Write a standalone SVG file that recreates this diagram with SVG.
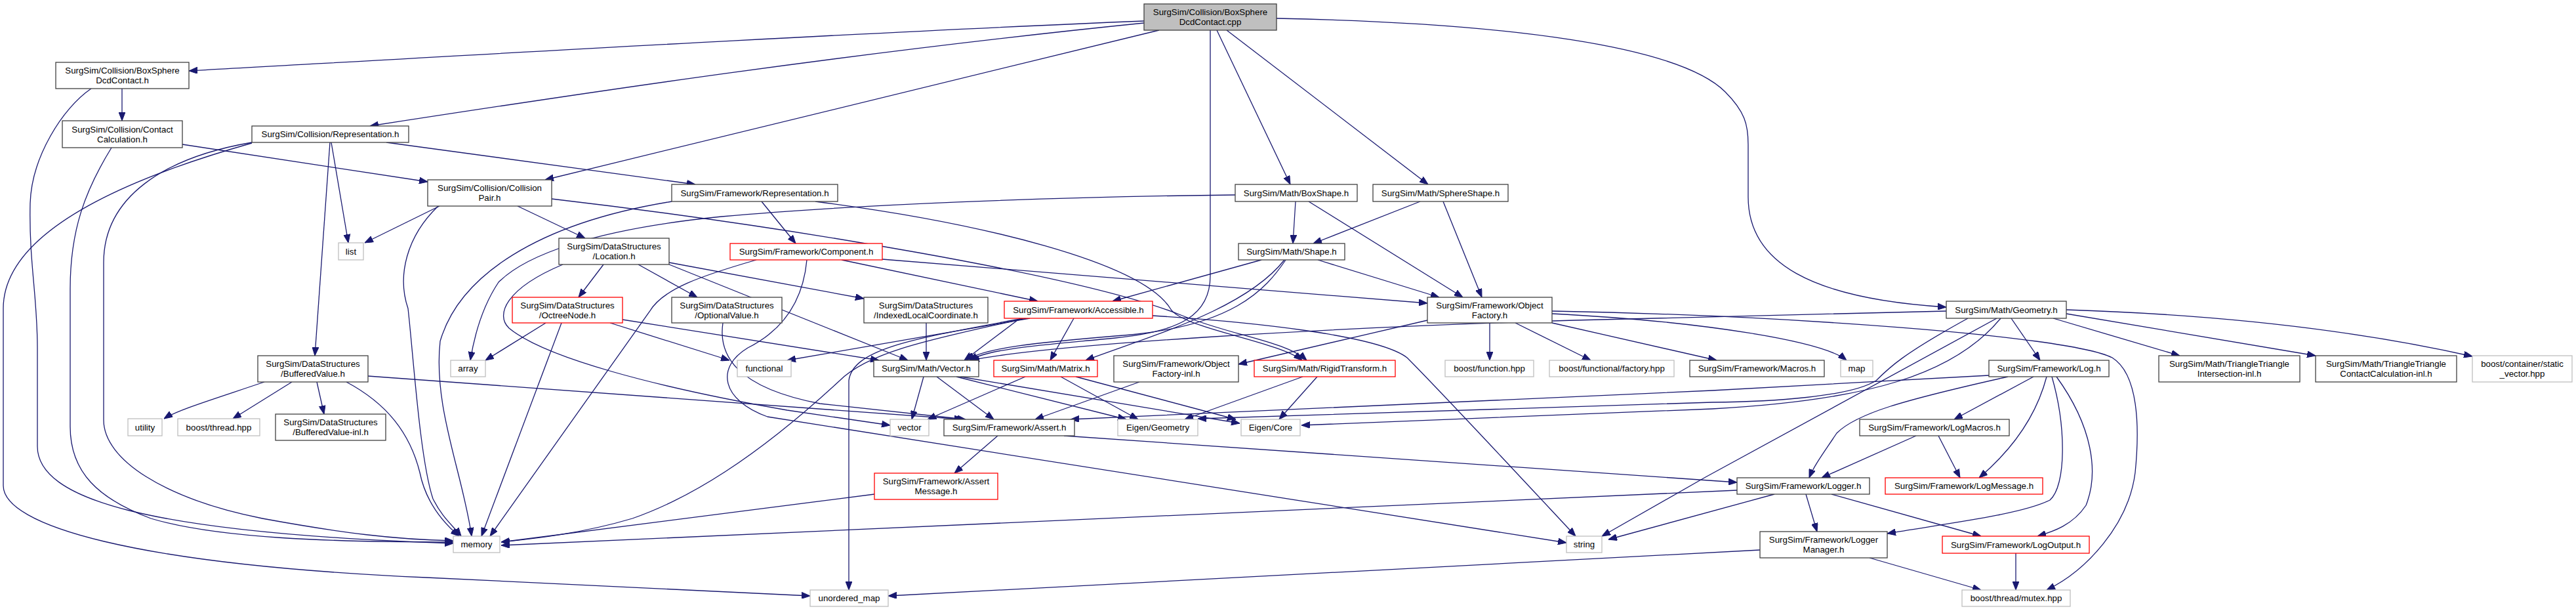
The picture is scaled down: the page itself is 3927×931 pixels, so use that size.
<svg xmlns="http://www.w3.org/2000/svg" width="3927" height="931" viewBox="0 0 3927 931">
<style>
rect.n{fill:#fff;stroke:#404040;stroke-width:1.3}
rect.r{fill:#fff;stroke:#ff0000;stroke-width:1.3}
rect.g{fill:#fff;stroke:#bfbfbf;stroke-width:1.3}
rect.m{fill:#bfbfbf;stroke:#404040;stroke-width:1.3}
text{font-family:"Liberation Sans",Arial,sans-serif;font-size:13.3px;fill:#000;text-anchor:middle}
#edges path{fill:none;stroke:#191970;stroke-width:1.3;marker-end:url(#ah)}
</style>
<defs>
<marker id="ah" markerUnits="userSpaceOnUse" markerWidth="13" markerHeight="10" viewBox="0 0 13 10" refX="13" refY="5" orient="auto">
<polygon points="0,0 13,5 0,10" fill="#191970" stroke="#191970"/>
</marker>
</defs>
<rect width="3927" height="931" fill="#fff"/>
<g id="edges">
<path d="M1744,32 C1300,50 700,85 288,108"/>
<path d="M1744,35 C1300,80 900,140 564,192"/>
<path d="M1767,46 L831,274"/>
<path d="M1855,46 L1967,281"/>
<path d="M1870,46 L2177,281"/>
<path d="M1946,28 C2300,35 2560,70 2630,140 C2660,170 2665,190 2665,220 L2665,300 C2665,400 2760,455 2967,468"/>
<path d="M1845,46 L1845,420 C1845,480 1800,505 1700,515 C1600,525 1510,530 1478,549"/>
<path d="M186,135 L186,184"/>
<path d="M139,135 C95,165 48,240 46,310 C44,400 57,450 57,530 L57,680 C57,760 220,812 691,828"/>
<path d="M278,220 L652,277"/>
<path d="M170,225 C130,290 107,350 107,440 L107,650 C107,720 150,760 230,790 C330,820 500,826 691,826"/>
<path d="M505,217 L531,370"/>
<path d="M503,217 L480,542"/>
<path d="M589,217 L1060,281"/>
<path d="M384,217 C250,240 158,300 158,400 L158,640 C158,700 250,760 400,790 C520,812 600,822 691,824"/>
<path d="M384,218 C200,270 5,350 5,470 L5,740 C5,800 200,860 650,880 L1235,908"/>
<path d="M670,314 L556,370"/>
<path d="M789,314 L892,363"/>
<path d="M668,314 C620,360 605,420 622,470 C630,540 640,700 660,760 C675,790 690,800 703,817"/>
<path d="M841,303 C1200,345 1650,420 1800,480 C1880,512 1960,520 1992,549"/>
<path d="M1161,307 L1213,371"/>
<path d="M1024,307 C820,340 700,420 671,520 C660,620 705,720 719,817"/>
<path d="M1243,307 C1500,340 1740,400 1784,470 C1800,500 1950,520 1985,549"/>
<path d="M1975,307 L1971,371"/>
<path d="M1995,307 L2230,453"/>
<path d="M1883,297 C1600,300 1300,312 1100,330 C900,350 800,390 760,430 C740,460 725,500 717,549"/>
<path d="M2165,307 L2002,371"/>
<path d="M2200,307 L2259,453"/>
<path d="M920,403 L882,453"/>
<path d="M973,403 L1063,453"/>
<path d="M1020,400 L1317,455"/>
<path d="M1020,403 L1384,549"/>
<path d="M858,403 C770,440 755,480 776,500 C830,545 1000,590 1200,625 L1357,648"/>
<path d="M1153,396 C1070,420 1010,440 990,475 L747,817"/>
<path d="M1230,396 C1225,450 1200,500 1140,530 C1090,560 1100,610 1170,635 L2388,827"/>
<path d="M1283,396 L1582,459"/>
<path d="M1345,395 L2176,462"/>
<path d="M1923,396 L1696,459"/>
<path d="M2009,396 L2194,453"/>
<path d="M1960,396 C1930,440 1880,500 1700,512 C1580,522 1500,530 1473,549"/>
<path d="M1958,396 C1900,470 1760,510 1655,549"/>
<path d="M832,492 L740,549"/>
<path d="M856,492 L734,817"/>
<path d="M930,492 L1112,549"/>
<path d="M949,487 L1340,549"/>
<path d="M1102,492 C1095,540 1120,590 1250,615 L1472,639"/>
<path d="M1412,492 L1412,549"/>
<path d="M1570,485 L1200,549"/>
<path d="M1565,485 C1400,520 1320,540 1280,580 C1150,700 1050,760 964,790 C880,815 800,822 764,826"/>
<path d="M1560,485 C1400,515 1300,530 1294,580 L1294,899"/>
<path d="M1637,485 L1601,549"/>
<path d="M1555,485 L1470,549"/>
<path d="M1757,481 C1900,490 2100,510 2145,545 C2200,600 2330,740 2402,817"/>
<path d="M2176,488 L1888,555"/>
<path d="M2271,492 L2271,549"/>
<path d="M2310,492 L2425,549"/>
<path d="M2366,492 L2617,549"/>
<path d="M2366,478 C2600,490 2780,520 2815,549"/>
<path d="M2366,474 C2700,480 3150,510 3220,545 C3260,570 3262,650 3255,720 C3245,800 3180,870 3120,899"/>
<path d="M3066,485 L3110,549"/>
<path d="M3130,485 L3323,542"/>
<path d="M3150,478 L3530,542"/>
<path d="M3150,472 C3400,480 3600,505 3769,543"/>
<path d="M2967,474 L2400,488 C2000,500 1600,525 1480,549"/>
<path d="M3000,485 C2900,540 2880,560 2860,580 C2820,605 2700,612 2610,613 L1826,638"/>
<path d="M3050,485 C2980,570 2850,610 2610,623 L1984,648"/>
<path d="M3044,485 L2600,727 L2442,817"/>
<path d="M3100,574 L2979,639"/>
<path d="M3061,574 C2900,610 2830,630 2800,660 C2780,690 2765,710 2758,728"/>
<path d="M3120,574 C3100,650 3050,700 3017,728"/>
<path d="M3128,574 C3150,650 3150,740 3125,762 C3080,785 2950,800 2877,813"/>
<path d="M3135,574 C3190,650 3200,720 3180,770 C3160,800 3130,810 3106,817"/>
<path d="M3032,572 L2610,595 L1632,639"/>
<path d="M2921,664 L2777,728"/>
<path d="M2955,664 L2988,728"/>
<path d="M2753,753 L2770,810"/>
<path d="M2792,753 L3020,817"/>
<path d="M2648,747 L764,831"/>
<path d="M2705,753 L2452,822"/>
<path d="M2850,850 L3020,899"/>
<path d="M2683,838 L1354,908"/>
<path d="M3073,843 L3073,899"/>
<path d="M1521,664 L1455,721"/>
<path d="M1622,664 L2648,735"/>
<path d="M1333,753 L764,826"/>
<path d="M1563,574 L1414,639"/>
<path d="M1617,574 L1735,639"/>
<path d="M1640,574 L1884,639"/>
<path d="M1408,574 L1390,639"/>
<path d="M1428,574 L1515,639"/>
<path d="M1458,574 L1717,639"/>
<path d="M1464,574 L1890,645"/>
<path d="M1737,582 L1578,639"/>
<path d="M1986,574 L1806,639"/>
<path d="M2008,574 L1950,639"/>
<path d="M403,582 C320,610 270,625 250,638"/>
<path d="M445,582 L355,638"/>
<path d="M483,582 L494,631"/>
<path d="M561,573 L1468,639"/>
<path d="M528,582 C590,615 625,660 640,720 C650,770 680,800 700,817"/>
</g>
<g id="n_cpp"><rect class="m" x="1744" y="6" width="202" height="40"/><text x="1845" y="23.1">SurgSim/Collision/BoxSphere</text><text x="1845" y="38.1">DcdContact.cpp</text></g>
<g id="n_dcdh"><rect class="n" x="85" y="95" width="203" height="40"/><text x="186.5" y="112.1">SurgSim/Collision/BoxSphere</text><text x="186.5" y="127.1">DcdContact.h</text></g>
<g id="n_contactcalc"><rect class="n" x="95" y="184" width="183" height="41"/><text x="186.5" y="201.6">SurgSim/Collision/Contact</text><text x="186.5" y="216.6">Calculation.h</text></g>
<g id="n_collrep"><rect class="n" x="384" y="192" width="239" height="25"/><text x="503.5" y="209.1">SurgSim/Collision/Representation.h</text></g>
<g id="n_collpair"><rect class="n" x="652" y="274" width="189" height="40"/><text x="746.5" y="291.1">SurgSim/Collision/Collision</text><text x="746.5" y="306.1">Pair.h</text></g>
<g id="n_fwrep"><rect class="n" x="1024" y="281" width="253" height="26"/><text x="1150.5" y="298.6">SurgSim/Framework/Representation.h</text></g>
<g id="n_boxshape"><rect class="n" x="1883" y="281" width="186" height="26"/><text x="1976" y="298.6">SurgSim/Math/BoxShape.h</text></g>
<g id="n_sphereshape"><rect class="n" x="2093" y="281" width="206" height="26"/><text x="2196" y="298.6">SurgSim/Math/SphereShape.h</text></g>
<g id="n_list"><rect class="g" x="516" y="370" width="38" height="26"/><text x="535" y="387.6">list</text></g>
<g id="n_location"><rect class="n" x="852" y="363" width="168" height="40"/><text x="936" y="380.1">SurgSim/DataStructures</text><text x="936" y="395.1">/Location.h</text></g>
<g id="n_component"><rect class="r" x="1113" y="371" width="232" height="25"/><text x="1229" y="388.1">SurgSim/Framework/Component.h</text></g>
<g id="n_shape"><rect class="n" x="1888" y="371" width="162" height="25"/><text x="1969" y="388.1">SurgSim/Math/Shape.h</text></g>
<g id="n_octree"><rect class="r" x="781" y="453" width="168" height="39"/><text x="865" y="469.6">SurgSim/DataStructures</text><text x="865" y="484.6">/OctreeNode.h</text></g>
<g id="n_optional"><rect class="n" x="1024" y="453" width="168" height="39"/><text x="1108" y="469.6">SurgSim/DataStructures</text><text x="1108" y="484.6">/OptionalValue.h</text></g>
<g id="n_indexed"><rect class="n" x="1317" y="453" width="189" height="39"/><text x="1411.5" y="469.6">SurgSim/DataStructures</text><text x="1411.5" y="484.6">/IndexedLocalCoordinate.h</text></g>
<g id="n_accessible"><rect class="r" x="1531" y="459" width="226" height="26"/><text x="1644" y="476.6">SurgSim/Framework/Accessible.h</text></g>
<g id="n_objfactory"><rect class="n" x="2176" y="453" width="190" height="39"/><text x="2271" y="469.6">SurgSim/Framework/Object</text><text x="2271" y="484.6">Factory.h</text></g>
<g id="n_geometry"><rect class="n" x="2967" y="459" width="183" height="26"/><text x="3058.5" y="476.6">SurgSim/Math/Geometry.h</text></g>
<g id="n_buffered"><rect class="n" x="393" y="542" width="168" height="40"/><text x="477" y="559.1">SurgSim/DataStructures</text><text x="477" y="574.1">/BufferedValue.h</text></g>
<g id="n_array"><rect class="g" x="687" y="549" width="53" height="25"/><text x="713.5" y="566.1">array</text></g>
<g id="n_functional"><rect class="g" x="1124" y="549" width="82" height="25"/><text x="1165" y="566.1">functional</text></g>
<g id="n_vectorh"><rect class="n" x="1332" y="549" width="160" height="25"/><text x="1412" y="566.1">SurgSim/Math/Vector.h</text></g>
<g id="n_matrix"><rect class="r" x="1515" y="549" width="158" height="25"/><text x="1594" y="566.1">SurgSim/Math/Matrix.h</text></g>
<g id="n_ofinl"><rect class="n" x="1698" y="542" width="190" height="40"/><text x="1793" y="559.1">SurgSim/Framework/Object</text><text x="1793" y="574.1">Factory-inl.h</text></g>
<g id="n_rigid"><rect class="r" x="1912" y="549" width="215" height="25"/><text x="2019.5" y="566.1">SurgSim/Math/RigidTransform.h</text></g>
<g id="n_bfunction"><rect class="g" x="2203" y="549" width="135" height="25"/><text x="2270.5" y="566.1">boost/function.hpp</text></g>
<g id="n_bfactory"><rect class="g" x="2362" y="549" width="190" height="25"/><text x="2457" y="566.1">boost/functional/factory.hpp</text></g>
<g id="n_macros"><rect class="n" x="2576" y="549" width="205" height="25"/><text x="2678.5" y="566.1">SurgSim/Framework/Macros.h</text></g>
<g id="n_map"><rect class="g" x="2806" y="549" width="49" height="25"/><text x="2830.5" y="566.1">map</text></g>
<g id="n_log"><rect class="n" x="3032" y="549" width="183" height="25"/><text x="3123.5" y="566.1">SurgSim/Framework/Log.h</text></g>
<g id="n_ttinter"><rect class="n" x="3291" y="542" width="215" height="40"/><text x="3398.5" y="559.1">SurgSim/Math/TriangleTriangle</text><text x="3398.5" y="574.1">Intersection-inl.h</text></g>
<g id="n_ttcontact"><rect class="n" x="3530" y="542" width="215" height="40"/><text x="3637.5" y="559.1">SurgSim/Math/TriangleTriangle</text><text x="3637.5" y="574.1">ContactCalculation-inl.h</text></g>
<g id="n_staticvec"><rect class="g" x="3769" y="542" width="152" height="40"/><text x="3845" y="559.1">boost/container/static</text><text x="3845" y="574.1">_vector.hpp</text></g>
<g id="n_utility"><rect class="g" x="195" y="638" width="52" height="26"/><text x="221" y="655.6">utility</text></g>
<g id="n_bthread"><rect class="g" x="271" y="638" width="125" height="26"/><text x="333.5" y="655.6">boost/thread.hpp</text></g>
<g id="n_bvinl"><rect class="n" x="420" y="631" width="168" height="40"/><text x="504" y="648.1">SurgSim/DataStructures</text><text x="504" y="663.1">/BufferedValue-inl.h</text></g>
<g id="n_vector"><rect class="g" x="1357" y="639" width="59" height="25"/><text x="1386.5" y="656.1">vector</text></g>
<g id="n_assert"><rect class="n" x="1439" y="639" width="199" height="25"/><text x="1538.5" y="656.1">SurgSim/Framework/Assert.h</text></g>
<g id="n_eigengeom"><rect class="g" x="1704" y="639" width="122" height="25"/><text x="1765" y="656.1">Eigen/Geometry</text></g>
<g id="n_eigencore"><rect class="g" x="1892" y="639" width="90" height="25"/><text x="1937" y="656.1">Eigen/Core</text></g>
<g id="n_logmacros"><rect class="n" x="2835" y="639" width="228" height="25"/><text x="2949" y="656.1">SurgSim/Framework/LogMacros.h</text></g>
<g id="n_assertmsg"><rect class="r" x="1333" y="721" width="188" height="40"/><text x="1427" y="738.1">SurgSim/Framework/Assert</text><text x="1427" y="753.1">Message.h</text></g>
<g id="n_logger"><rect class="n" x="2648" y="728" width="202" height="25"/><text x="2749" y="745.1">SurgSim/Framework/Logger.h</text></g>
<g id="n_logmessage"><rect class="r" x="2874" y="728" width="240" height="25"/><text x="2994" y="745.1">SurgSim/Framework/LogMessage.h</text></g>
<g id="n_memory"><rect class="g" x="691" y="817" width="71" height="25"/><text x="726.5" y="834.1">memory</text></g>
<g id="n_string"><rect class="g" x="2388" y="817" width="54" height="25"/><text x="2415" y="834.1">string</text></g>
<g id="n_loggermgr"><rect class="n" x="2683" y="810" width="194" height="40"/><text x="2780" y="827.1">SurgSim/Framework/Logger</text><text x="2780" y="842.1">Manager.h</text></g>
<g id="n_logoutput"><rect class="r" x="2961" y="817" width="224" height="26"/><text x="3073" y="834.6">SurgSim/Framework/LogOutput.h</text></g>
<g id="n_umap"><rect class="g" x="1235" y="899" width="119" height="25"/><text x="1294.5" y="916.1">unordered_map</text></g>
<g id="n_mutex"><rect class="g" x="2991" y="899" width="165" height="25"/><text x="3073.5" y="916.1">boost/thread/mutex.hpp</text></g>
</svg>
